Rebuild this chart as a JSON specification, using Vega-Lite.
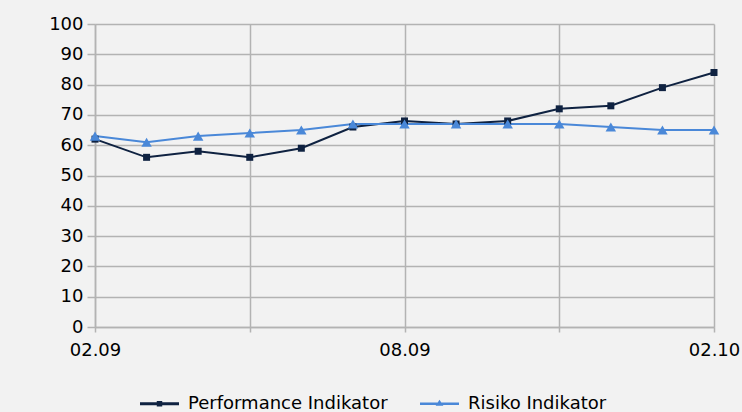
{
  "$schema": "https://vega.github.io/schema/vega-lite/v6.json",
  "width": 619,
  "height": 303,
  "autosize": {"type": "none"},
  "padding": {"left": 95, "top": 24, "right": 28, "bottom": 85},
  "background": "#f2f2f2",
  "config": {
    "view": {"stroke": null},
    "font": "DejaVu Sans",
    "axis": {
      "labelFont": "DejaVu Sans",
      "labelFontSize": 18,
      "labelColor": "#000000",
      "gridColor": "#b3b3b3",
      "gridWidth": 1.5,
      "gridOpacity": 1,
      "domainColor": "#b3b3b3",
      "domainWidth": 1.5,
      "tickColor": "#b3b3b3",
      "tickWidth": 1.5,
      "title": null
    }
  },
  "data": {
    "values": [
      {"month": "02.09", "series": "Performance Indikator", "value": 62},
      {"month": "03.09", "series": "Performance Indikator", "value": 56},
      {"month": "04.09", "series": "Performance Indikator", "value": 58},
      {"month": "05.09", "series": "Performance Indikator", "value": 56},
      {"month": "06.09", "series": "Performance Indikator", "value": 59},
      {"month": "07.09", "series": "Performance Indikator", "value": 66},
      {"month": "08.09", "series": "Performance Indikator", "value": 68},
      {"month": "09.09", "series": "Performance Indikator", "value": 67},
      {"month": "10.09", "series": "Performance Indikator", "value": 68},
      {"month": "11.09", "series": "Performance Indikator", "value": 72},
      {"month": "12.09", "series": "Performance Indikator", "value": 73},
      {"month": "01.10", "series": "Performance Indikator", "value": 79},
      {"month": "02.10", "series": "Performance Indikator", "value": 84},
      {"month": "02.09", "series": "Risiko Indikator", "value": 63},
      {"month": "03.09", "series": "Risiko Indikator", "value": 61},
      {"month": "04.09", "series": "Risiko Indikator", "value": 63},
      {"month": "05.09", "series": "Risiko Indikator", "value": 64},
      {"month": "06.09", "series": "Risiko Indikator", "value": 65},
      {"month": "07.09", "series": "Risiko Indikator", "value": 67},
      {"month": "08.09", "series": "Risiko Indikator", "value": 67},
      {"month": "09.09", "series": "Risiko Indikator", "value": 67},
      {"month": "10.09", "series": "Risiko Indikator", "value": 67},
      {"month": "11.09", "series": "Risiko Indikator", "value": 67},
      {"month": "12.09", "series": "Risiko Indikator", "value": 66},
      {"month": "01.10", "series": "Risiko Indikator", "value": 65},
      {"month": "02.10", "series": "Risiko Indikator", "value": 65}
    ]
  },
  "encoding": {
    "x": {
      "field": "month",
      "type": "ordinal",
      "sort": ["02.09","03.09","04.09","05.09","06.09","07.09","08.09","09.09","10.09","11.09","12.09","01.10","02.10"],
      "scale": {"type": "point", "padding": 0},
      "axis": {
        "values": ["02.09","05.09","08.09","11.09","02.10"],
        "labelExpr": "indexof(['02.09','08.09','02.10'], datum.value) >= 0 ? datum.value : ''",
        "labelAngle": 0,
        "labelOverlap": false,
        "grid": true,
        "tickSize": 5,
        "labelPadding": 9,
        "zindex": 0
      }
    },
    "y": {
      "field": "value",
      "type": "quantitative",
      "scale": {"domain": [0, 100], "nice": false},
      "axis": {
        "values": [0,10,20,30,40,50,60,70,80,90,100],
        "grid": true,
        "tickSize": 8,
        "labelPadding": 4,
        "zindex": 0
      }
    }
  },
  "layer": [
    {
      "mark": {"type": "line", "strokeWidth": 2},
      "encoding": {
        "color": {
          "field": "series",
          "type": "nominal",
          "scale": {"domain": ["Performance Indikator", "Risiko Indikator"], "range": ["#0f2241", "#4a88d8"]},
          "legend": {
            "orient": "none",
            "legendX": 45,
            "legendY": 360,
            "direction": "horizontal",
            "title": null,
            "symbolSize": 1521,
            "symbolType": "square",
            "symbolStrokeWidth": 0,
            "labelOffset": 9,
            "labelLimit": 0,
            "columnPadding": 32,
            "labelFont": "DejaVu Sans",
            "labelFontSize": 18,
            "labelColor": "#000000",
            "encode": {
              "symbols": {
                "update": {
                  "shape": {"signal": "datum.value === 'Performance Indikator' ? 'M-1,-0.08H1V0.08H-1Z M-0.14,-0.14H0.14V0.14H-0.14Z' : 'M-1,-0.07H1V0.07H-1Z M0,-0.2L0.2,0.1H-0.2Z'"},
                  "fill": {"signal": "scale('color', datum.value)"},
                  "stroke": {"value": "transparent"},
                  "strokeWidth": {"value": 0}
                }
              }
            }
          }
        }
      }
    },
    {
      "transform": [{"filter": "datum.series === 'Performance Indikator'"}],
      "mark": {"type": "point", "filled": true, "opacity": 1, "shape": "square", "size": 49, "color": "#0f2241"}
    },
    {
      "transform": [{"filter": "datum.series === 'Risiko Indikator'"}],
      "mark": {"type": "point", "filled": true, "opacity": 1, "shape": "triangle-up", "size": 110, "color": "#4a88d8"}
    }
  ]
}
